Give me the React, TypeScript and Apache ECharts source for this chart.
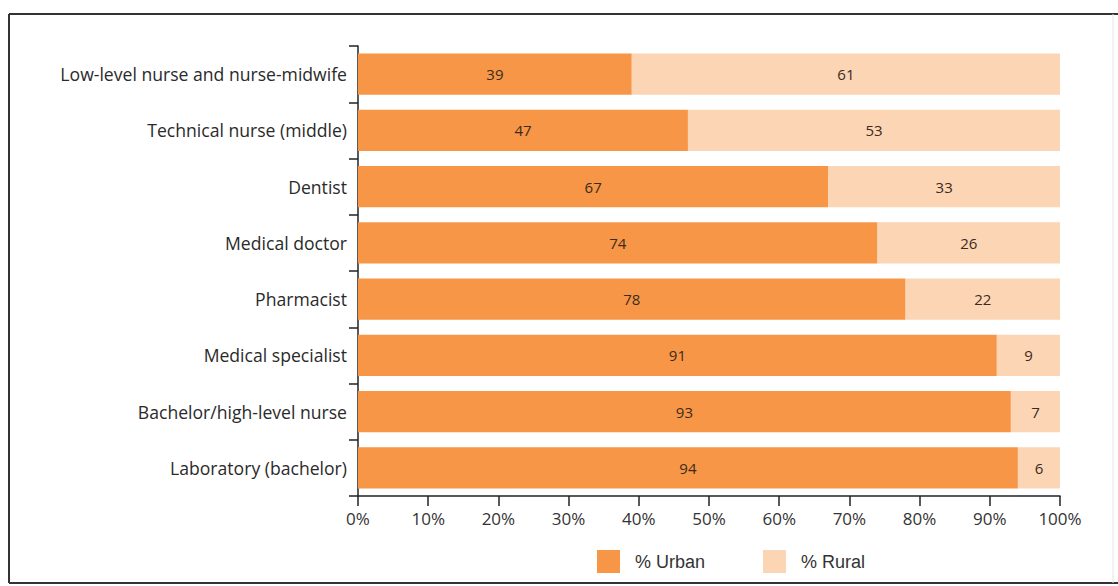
import React, { useEffect, useRef } from "react";
import * as echarts from "echarts";

const categories = [
  "Low-level nurse and nurse-midwife",
  "Technical nurse (middle)",
  "Dentist",
  "Medical doctor",
  "Pharmacist",
  "Medical specialist",
  "Bachelor/high-level nurse",
  "Laboratory (bachelor)",
];
const urban = [39, 47, 67, 74, 78, 91, 93, 94];
const rural = [61, 53, 33, 26, 22, 9, 7, 6];
const seriesNames = ["% Urban", "% Rural"];

export default function App() {
  const ref = useRef<HTMLDivElement>(null);
  useEffect(() => {
    if (!ref.current) return;
    const chart = echarts.init(ref.current, null, { renderer: "svg" });
    const labelStyle = {
      show: true,
      position: "inside",
      fontSize: 15,
      color: "#3b2b1c",
      fontFamily: "Open Sans",
    };
    chart.setOption({
      animation: false,
      backgroundColor: "#ffffff",
      grid: { left: 358, right: 58, top: 46, bottom: 90 },
      legend: {
        left: 592,
        top: 545,
        itemWidth: 23,
        itemHeight: 23,
        itemGap: 58,
        icon: "rect",
        textStyle: {
          fontFamily: "Liberation Sans",
          fontSize: 18,
          color: "#333",
          padding: [0, 0, 0, 10],
        },
        data: seriesNames,
      },
      xAxis: {
        type: "value",
        min: 0,
        max: 100,
        interval: 10,
        axisLine: { show: true, lineStyle: { color: "#222", width: 1.5 } },
        axisTick: { show: true, length: 10, lineStyle: { color: "#222", width: 1.5 } },
        splitLine: { show: false },
        axisLabel: {
          formatter: "{value}%",
          fontFamily: "Open Sans",
          fontSize: 17,
          color: "#333",
          margin: 14,
        },
      },
      yAxis: {
        type: "category",
        inverse: true,
        data: categories,
        axisLine: { show: true, lineStyle: { color: "#222", width: 1.5 } },
        axisTick: { show: true, length: 9, lineStyle: { color: "#222", width: 1.5 } },
        axisLabel: {
          fontFamily: "Open Sans",
          fontSize: 17.6,
          color: "#2a2a2a",
          margin: 11,
        },
      },
      series: [
        {
          name: seriesNames[0],
          type: "bar",
          stack: "total",
          data: urban,
          barCategoryGap: "27%",
          itemStyle: { color: "#F79646" },
          label: labelStyle,
        },
        {
          name: seriesNames[1],
          type: "bar",
          stack: "total",
          data: rural,
          barCategoryGap: "27%",
          itemStyle: { color: "#FCD5B5" },
          label: labelStyle,
        },
      ],
      graphic: [
        { type: "line", shape: { x1: 9, y1: 14, x2: 1118, y2: 14 }, style: { stroke: "#333", lineWidth: 2 } },
        { type: "line", shape: { x1: 9, y1: 583, x2: 1118, y2: 583 }, style: { stroke: "#333", lineWidth: 2 } },
        { type: "line", shape: { x1: 9, y1: 14, x2: 9, y2: 583 }, style: { stroke: "#333", lineWidth: 2 } },
        { type: "line", shape: { x1: 1113, y1: 14, x2: 1113, y2: 583 }, style: { stroke: "#e4e4e4", lineWidth: 1 } },
      ],
    });
    return () => chart.dispose();
  }, []);
  return (
    <div
      ref={ref}
      style={{ position: "fixed", left: 0, top: 0, width: 1118, height: 586 }}
    />
  );
}
